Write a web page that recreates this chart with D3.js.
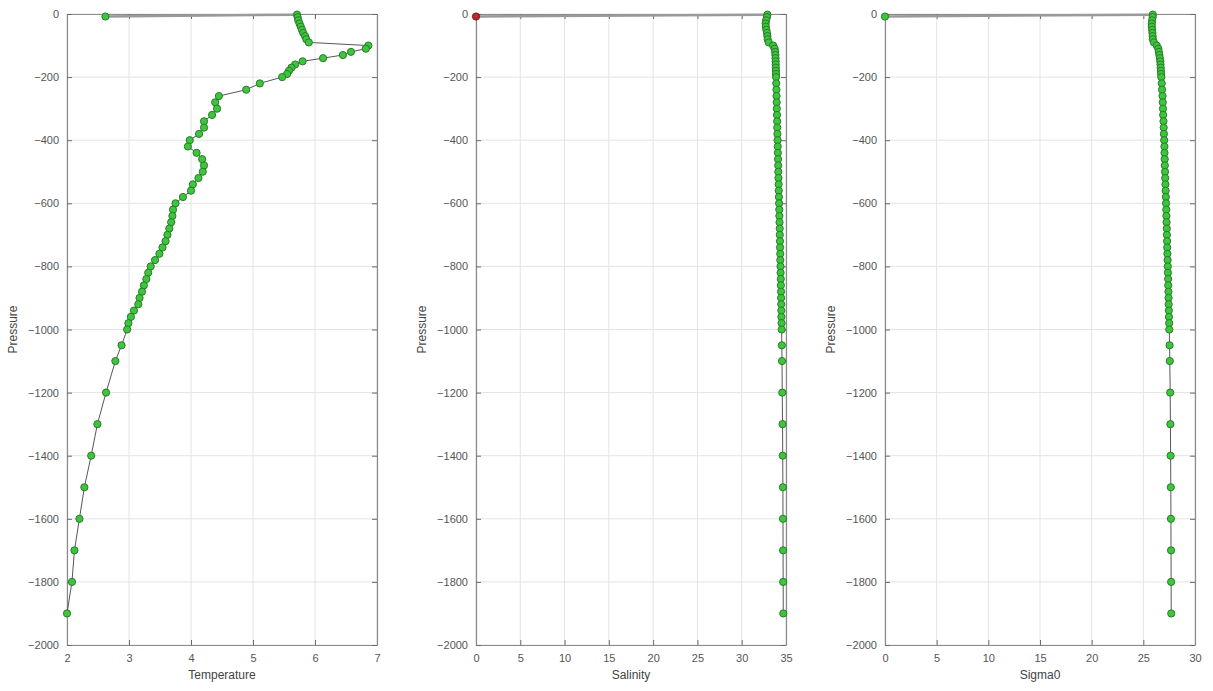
<!DOCTYPE html>
<html>
<head>
<meta charset="utf-8">
<script src="https://cdn.jsdelivr.net/npm/d3@7"></script>
<style>
  html, body { margin: 0; padding: 0; background: #fff; }
  svg { display: block; font-family: "Liberation Sans", "DejaVu Sans", sans-serif; }
</style>
</head>
<body>
<svg id="chart" width="1213" height="691"></svg>
<script>
// ---- data (pressure in dbar, positive downward; first entry is a flagged surface sample) ----
const pressure = [8, 2, 10, 20, 30, 40, 50, 60, 70, 80, 90, 100, 110, 120, 130, 140, 150, 160, 170, 180, 190, 200,
  220, 240, 260, 280, 300, 320, 340, 360, 380, 400, 420, 440, 460, 480, 500, 520, 540, 560, 580, 600,
  620, 640, 660, 680, 700, 720, 740, 760, 780, 800, 820, 840, 860, 880, 900, 920, 940, 960, 980, 1000,
  1050, 1100, 1200, 1300, 1400, 1500, 1600, 1700, 1800, 1900];

const temperature = [2.62, 5.71, 5.72, 5.73, 5.75, 5.77, 5.79, 5.81, 5.84, 5.86, 5.90, 6.86, 6.82, 6.58, 6.45, 6.13, 5.80, 5.68, 5.62, 5.58, 5.55, 5.47,
  5.11, 4.89, 4.45, 4.39, 4.42, 4.34, 4.21, 4.21, 4.13, 3.98, 3.95, 4.09, 4.18, 4.21, 4.19, 4.12, 4.03, 4.00, 3.87, 3.75,
  3.71, 3.70, 3.68, 3.65, 3.62, 3.59, 3.54, 3.49, 3.42, 3.35, 3.31, 3.28, 3.24, 3.21, 3.17, 3.15, 3.08, 3.03, 2.99, 2.97,
  2.88, 2.78, 2.63, 2.49, 2.39, 2.28, 2.20, 2.12, 2.08, 2.00];

const salinity = [0.0, 32.90, 32.85, 32.75, 32.70, 32.72, 32.78, 32.85, 32.90, 32.93, 33.05, 33.55, 33.72, 33.78, 33.80, 33.82, 33.83, 33.84, 33.85, 33.86, 33.87, 33.88,
  33.90, 33.92, 33.93, 33.95, 33.96, 33.98, 34.00, 34.01, 34.03, 34.05, 34.07, 34.08, 34.10, 34.12, 34.13, 34.15, 34.17, 34.18, 34.20, 34.22,
  34.24, 34.25, 34.27, 34.29, 34.30, 34.32, 34.33, 34.35, 34.36, 34.38, 34.39, 34.41, 34.42, 34.44, 34.45, 34.46, 34.47, 34.48, 34.50, 34.51,
  34.53, 34.55, 34.58, 34.61, 34.63, 34.65, 34.66, 34.67, 34.68, 34.69];

const sigma0 = [0.0, 25.92, 25.90, 25.85, 25.82, 25.82, 25.85, 25.88, 25.90, 25.92, 26.02, 26.30, 26.45, 26.50, 26.55, 26.60, 26.64, 26.66, 26.68, 26.70, 26.72, 26.74,
  26.78, 26.81, 26.86, 26.88, 26.90, 26.92, 26.95, 26.97, 26.99, 27.02, 27.04, 27.05, 27.07, 27.08, 27.10, 27.12, 27.14, 27.16, 27.18, 27.20,
  27.22, 27.23, 27.25, 27.27, 27.28, 27.30, 27.31, 27.33, 27.35, 27.37, 27.38, 27.40, 27.41, 27.43, 27.44, 27.45, 27.47, 27.48, 27.50, 27.51,
  27.54, 27.56, 27.60, 27.62, 27.64, 27.66, 27.67, 27.68, 27.69, 27.70];

// flag per sample: 1 = flagged (red marker), 0 = good
const salinityFlag = [1].concat(new Array(pressure.length - 1).fill(0));

const yTicks = [0, -200, -400, -600, -800, -1000, -1200, -1400, -1600, -1800, -2000];
const tempTicks = [2, 3, 4, 5, 6, 7];
const salTicks = [0, 5, 10, 15, 20, 25, 30, 35];
const sigTicks = [0, 5, 10, 15, 20, 25, 30];

const panels = [
  { label: "Temperature", values: temperature, domain: [2, 7], ticks: tempTicks, left: 67, flags: null },
  { label: "Salinity", values: salinity, domain: [0, 35], ticks: salTicks, left: 476, flags: salinityFlag },
  { label: "Sigma0", values: sigma0, domain: [0, 30], ticks: sigTicks, left: 885, flags: null }
];

// ---- layout ----
const W = 310, plotTop = 14, plotBottom = 645;
const svg = d3.select("#chart");
const y = d3.scaleLinear().domain([-2000, 0]).range([plotBottom, plotTop]);

panels.forEach(p => {
  const x = d3.scaleLinear().domain(p.domain).range([p.left, p.left + W]);
  const g = svg.append("g");

  // grid
  g.append("g").selectAll("line").data(p.ticks).join("line")
    .attr("x1", d => x(d)).attr("x2", d => x(d)).attr("y1", plotTop).attr("y2", plotBottom)
    .attr("stroke", "#e4e4e4").attr("stroke-width", 1);
  g.append("g").selectAll("line").data(yTicks).join("line")
    .attr("x1", p.left).attr("x2", p.left + W).attr("y1", d => y(d)).attr("y2", d => y(d))
    .attr("stroke", "#e4e4e4").attr("stroke-width", 1);

  // axes (ticks inward, mirrored)
  const axB = d3.axisBottom(x).tickValues(p.ticks).tickSizeInner(-5).tickSizeOuter(0).tickPadding(9).tickFormat(d3.format("d"));
  const axT = d3.axisTop(x).tickValues(p.ticks).tickSizeInner(-5).tickSizeOuter(0).tickFormat("");
  const axL = d3.axisLeft(y).tickValues(yTicks).tickSizeInner(-5).tickSizeOuter(0).tickPadding(8).tickFormat(d3.format("d"));
  const axR = d3.axisRight(y).tickValues(yTicks).tickSizeInner(-5).tickSizeOuter(0).tickFormat("");

  const styleAxis = sel => {
    sel.select(".domain").attr("stroke", "#8a8a8a").attr("stroke-width", 1.2);
    sel.selectAll(".tick line").attr("stroke", "#6a6a6a");
    sel.selectAll(".tick text").attr("fill", "#555").attr("font-size", 11);
  };
  g.append("g").attr("transform", `translate(0,${plotBottom})`).call(axB).call(styleAxis);
  g.append("g").attr("transform", `translate(0,${plotTop})`).call(axT).call(styleAxis);
  g.append("g").attr("transform", `translate(${p.left},0)`).call(axL).call(styleAxis);
  g.append("g").attr("transform", `translate(${p.left + W},0)`).call(axR).call(styleAxis);

  // axis labels
  g.append("text").attr("x", p.left + W / 2).attr("y", 679).attr("text-anchor", "middle")
    .attr("font-size", 12).attr("fill", "#444").text(p.label);
  g.append("text").attr("transform", `translate(${p.left - 50},${(plotTop + plotBottom) / 2}) rotate(-90)`)
    .attr("text-anchor", "middle").attr("font-size", 12).attr("fill", "#444").text("Pressure");

  const pts = pressure.map((pr, i) => ({ v: p.values[i], pr: -pr, bad: p.flags ? p.flags[i] : 0, i }));

  // link from flagged surface sample to profile
  g.append("path")
    .attr("d", d3.line().x(d => x(d.v)).y(d => y(d.pr))(pts.slice(0, 2)))
    .attr("fill", "none").attr("stroke", "#9a9a9a").attr("stroke-width", 2.5);

  // profile line
  g.append("path")
    .attr("d", d3.line().x(d => x(d.v)).y(d => y(d.pr))(pts.slice(1)))
    .attr("fill", "none").attr("stroke", "#444").attr("stroke-width", 0.9);

  // markers
  g.append("g").selectAll("circle").data(pts).join("circle")
    .attr("cx", d => x(d.v)).attr("cy", d => y(d.pr)).attr("r", 3.6)
    .attr("fill", d => d.bad ? "#c0282a" : "#3cc63c")
    .attr("stroke", d => d.bad ? "#7a1515" : "#2c7a2c").attr("stroke-width", 1);
});
</script>
</body>
</html>
